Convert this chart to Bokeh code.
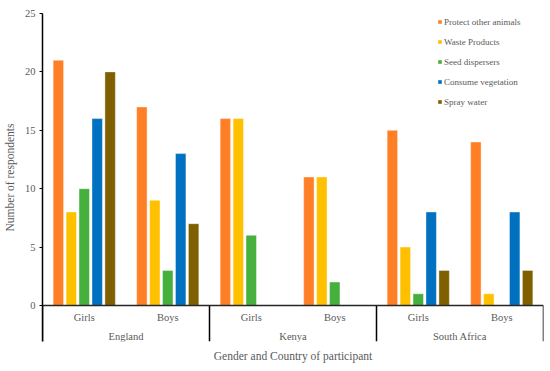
from bokeh.plotting import figure
from bokeh.models import ColumnDataSource, FactorRange, Span, Title, Legend, LegendItem, FixedTicker
from bokeh.transform import dodge
from bokeh.core.properties import value
from bokeh.embed import file_html
from bokeh.resources import INLINE

countries = ["England", "Kenya", "South Africa"]
genders = ["Girls", "Boys"]
series = ["Protect other animals", "Waste Products", "Seed dispersers",
          "Consume vegetation", "Spray water"]
# values per (country, gender): England Girls, England Boys, Kenya Girls, Kenya Boys, SA Girls, SA Boys
protect = [21, 17, 16, 11, 15, 14]
waste = [8, 9, 16, 11, 5, 1]
seed = [10, 3, 6, 2, 1, 0]
consume = [16, 13, 0, 0, 8, 8]
spray = [20, 7, 0, 0, 3, 3]
y_ticks = [0, 5, 10, 15, 20, 25]

colors = ["#FF7F27", "#FFC000", "#45B03C", "#0070C0", "#7F5F00"]
FONT = "Liberation Serif"
GREY = "#595959"

factors = [(c, g) for c in countries for g in genders]
src = ColumnDataSource(dict(x=factors, s0=protect, s1=waste, s2=seed, s3=consume, s4=spray))

y_bottom = -3.09
p = figure(x_range=FactorRange(*factors, range_padding=0, factor_padding=0, group_padding=0),
           y_range=(y_bottom, 25), width=544, height=368,
           output_backend="svg", toolbar_location=None, x_axis_location=None,
           min_border_left=0, min_border_right=1, min_border_top=13, min_border_bottom=0)
p.outline_line_color = None
p.grid.visible = False
p.background_fill_color = "white"

step = 0.155
bw = 0.125
items = []
for i, (name, col) in enumerate(zip(series, colors)):
    r = p.vbar(x=dodge("x", (i - 2) * step, range=p.x_range), top="s%d" % i, width=bw,
               source=src, fill_color=col, line_color="white", line_width=0.8, line_alpha=0.5)
    items.append(LegendItem(label=name, renderers=[r]))

# y axis
ya = p.yaxis[0]
ya.ticker = FixedTicker(ticks=y_ticks)
ya.axis_label = "Number of respondents"
ya.axis_label_text_font = FONT
ya.axis_label_text_font_style = "normal"
ya.axis_label_text_font_size = "11.5px"
ya.axis_label_text_color = GREY
ya.axis_label_standoff = 6
ya.major_label_text_font = FONT
ya.major_label_text_font_size = "10.5px"
ya.major_label_text_color = GREY
ya.major_label_standoff = 4
ya.major_tick_in = 0
ya.major_tick_out = 3
ya.minor_tick_out = 0
ya.minor_tick_in = 0
ya.axis_line_color = "black"
ya.axis_line_width = 1.5
ya.major_tick_line_color = "black"

# baseline at zero
p.add_layout(Span(location=0, dimension="width", line_color="#262626", line_width=1.5))

# separators between countries
sep_x = [(c, genders[0], -0.5) for c in countries] + [(countries[-1], genders[-1], 0.5)]
p.segment(x0=sep_x, x1=sep_x, y0=[0] * len(sep_x), y1=[y_bottom] * len(sep_x),
          line_color="black", line_width=1.5)

# category labels
p.text(x=factors, y=[-1.0] * len(factors), text=[g for c, g in factors],
       text_font=value(FONT), text_font_size="10.5px", text_color=GREY,
       text_align="center", text_baseline="middle")
p.text(x=countries, y=[-2.65] * len(countries), text=countries,
       text_font=value(FONT), text_font_size="10.5px", text_color=GREY,
       text_align="center", text_baseline="middle")

p.add_layout(Title(text="Gender and Country of participant", align="center",
                   text_font=FONT, text_font_size="11.5px", text_font_style="normal",
                   text_color=GREY, standoff=13), "below")

legend = Legend(items=items, location=(395, 231), border_line_color=None,
                background_fill_alpha=0, label_text_font=FONT, label_text_font_size="9px",
                label_text_color=GREY, glyph_width=5, glyph_height=5, label_standoff=2,
                label_height=17, spacing=3, padding=0, margin=0)
p.add_layout(legend)

open("out.html", "w").write(file_html(p, INLINE))
